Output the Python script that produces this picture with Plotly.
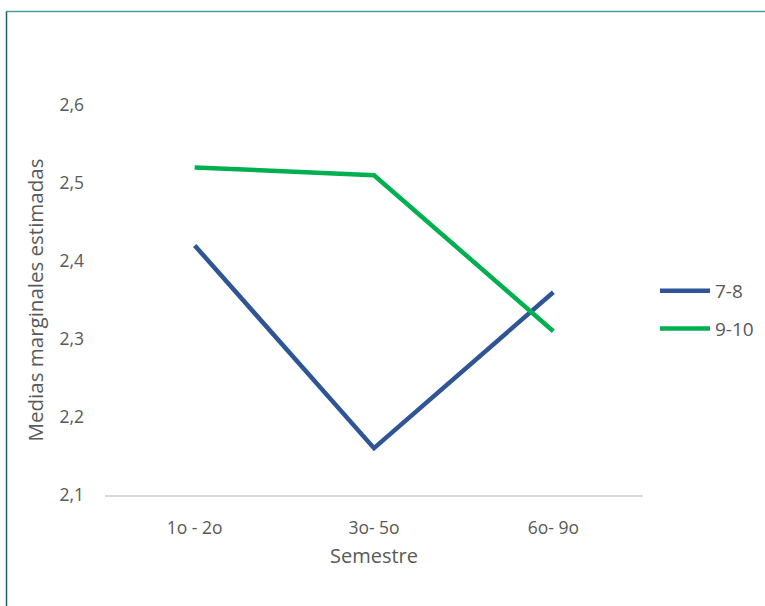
import plotly.graph_objects as go

categories = ["1o - 2o", "3o- 5o", "6o- 9o"]
series_78 = [2.42, 2.16, 2.36]
series_910 = [2.52, 2.51, 2.31]
y_ticks = [2.1, 2.2, 2.3, 2.4, 2.5, 2.6]

W, H = 765, 606
L, R, T, B = 105, 643, 105, 495

def px(x):
    return (x - L) / (R - L)

def py(y):
    return (B - y) / (B - T)

font_color = "#595959"
fnt = "'Open Sans', Lato, sans-serif"

fig = go.Figure()
fig.add_trace(go.Scatter(x=categories, y=series_78, name="7-8", mode="lines",
                         legendgroup="a",
                         line=dict(color="#2F5597", width=4.5)))
fig.add_trace(go.Scatter(x=categories, y=series_910, name="9-10", mode="lines",
                         legendgroup="b",
                         line=dict(color="#00B050", width=4.5)))

fig.update_layout(
    width=W, height=H,
    margin=dict(l=L, r=W - R, t=T, b=H - B, pad=0, autoexpand=False),
    paper_bgcolor="white", plot_bgcolor="white",
    separators=",.",
    font=dict(family=fnt, size=17.5, color=font_color),
    showlegend=True,
    legend=dict(x=px(655), y=py(272), xanchor="left", yanchor="top",
                font=dict(size=19, color=font_color), tracegroupgap=10,
                traceorder="grouped",
                itemwidth=50, bgcolor="rgba(0,0,0,0)"),
    xaxis=dict(type="category", range=[-0.5, 2.5], showgrid=False, zeroline=False,
               showline=True, linecolor="#D9D9D9", linewidth=2, ticks="",
               ticklabelstandoff=16,
               title=dict(text="Semestre", standoff=11, font=dict(size=20, color=font_color))),
    yaxis=dict(range=[2.1, 2.6], tickvals=y_ticks, tickformat=".1f", showgrid=False,
               zeroline=False, showline=False, ticks="", ticklabelstandoff=20,
               title=dict(text="Medias marginales estimadas", standoff=10,
                          font=dict(size=20.5, color=font_color))),
    shapes=[
        dict(type="line", xref="paper", yref="paper", x0=px(6.5), x1=px(766), y0=py(11.5), y1=py(11.5),
             line=dict(color="#4F9AA0", width=1.5)),
        dict(type="line", xref="paper", yref="paper", x0=px(6.5), x1=px(6.5), y0=py(11.5), y1=py(607),
             line=dict(color="#1F5F66", width=1.5)),
    ],
)

fig.write_html("out.html")
